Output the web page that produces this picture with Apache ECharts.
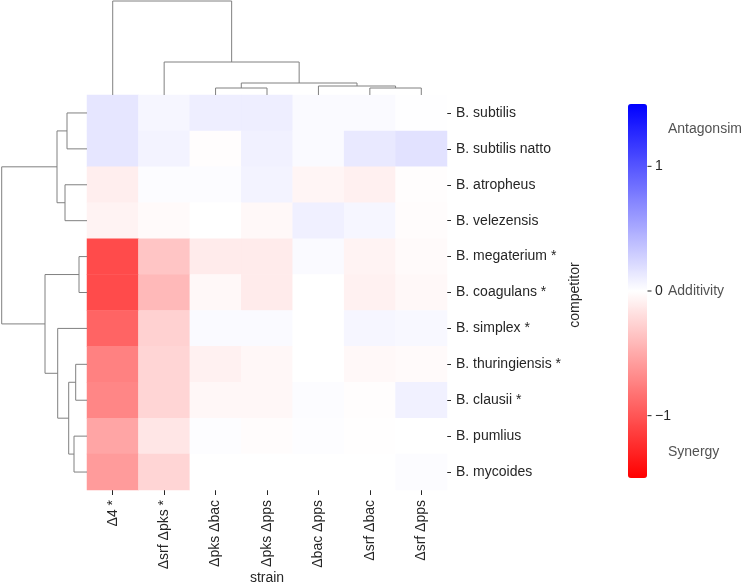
<!DOCTYPE html>
<html><head><meta charset="utf-8">
<script src="https://cdn.jsdelivr.net/npm/echarts@6/dist/echarts.min.js"></script>
<style>html,body{margin:0;padding:0;background:#fff}#c{width:750px;height:584px}</style>
</head><body><div id="c"></div>
<script>
// ---- data ----
const strains = ['Δ4 *','Δsrf Δpks *','Δpks Δbac','Δpks Δpps','Δbac Δpps','Δsrf Δbac','Δsrf Δpps'];
const competitors = ['B. subtilis','B. subtilis natto','B. atropheus','B. velezensis','B. megaterium *','B. coagulans *','B. simplex *','B. thuringiensis *','B. clausii *','B. pumlius','B. mycoides'];
const vSubtilis      = [0.15, 0.05, 0.10, 0.10, 0.03, 0.03, 0.005];
const vSubtilisNatto = [0.15, 0.07, -0.01, 0.08, 0.03, 0.13, 0.17];
const vAtropheus     = [-0.10, 0.02, 0.02, 0.07, -0.06, -0.09, -0.01];
const vVelezensis    = [-0.07, -0.03, 0.0, -0.04, 0.09, 0.05, -0.02];
const vMegaterium    = [-1.06, -0.34, -0.12, -0.12, 0.03, -0.07, -0.03];
const vCoagulans     = [-1.06, -0.41, -0.04, -0.12, 0.0, -0.08, -0.04];
const vSimplex       = [-0.91, -0.27, 0.03, 0.03, 0.0, 0.05, 0.04];
const vThuringiensis = [-0.74, -0.25, -0.08, -0.05, 0.0, -0.04, -0.03];
const vClausii       = [-0.71, -0.25, -0.05, -0.05, 0.02, -0.01, 0.08];
const vPumlius       = [-0.53, -0.15, 0.01, -0.02, 0.01, -0.005, 0.0];
const vMycoides      = [-0.59, -0.25, 0.0, 0.0, 0.0, 0.0, 0.02];
// linkage: [clusterA, clusterB, height]; new cluster ids continue after leaves
const colMerges = [[5,6,7],[2,3,7],[4,7,9],[8,9,12],[1,10,33],[0,11,94]];
const rowMerges = [[4,5,8],[7,8,11.3],[9,10,13],[12,13,18.3],[0,1,20],[2,3,22],[6,14,29.3],[15,16,30],[11,17,42],[18,19,85.3]];
const cbarMin = -1.5, cbarMax = 1.5;
const cbarTicks = [-1, 0, 1];
const cbarNotes = [['Antagonsim', 1.30], ['Additivity', 0], ['Synergy', -1.29]];

// ---- build ----
const rows = [vSubtilis, vSubtilisNatto, vAtropheus, vVelezensis, vMegaterium, vCoagulans, vSimplex, vThuringiensis, vClausii, vPumlius, vMycoides];
const heat = [];
rows.forEach((r, yi) => r.forEach((v, xi) => heat.push([xi, yi, v])));

function dendro(merges, n) {
  const pos = [], hgt = [], segs = [];
  for (let i = 0; i < n; i++) { pos.push(i + 0.5); hgt.push(0); }
  merges.forEach(([a, b, h]) => {
    segs.push([[pos[a], hgt[a]], [pos[a], h], [pos[b], h], [pos[b], hgt[b]]]);
    pos.push((pos[a] + pos[b]) / 2); hgt.push(h);
  });
  return segs;
}
const topSegs = dendro(colMerges, strains.length).map(s => ({coords: s}));
const leftSegs = dendro(rowMerges, competitors.length).map(s => ({coords: s.map(([p, h]) => [h, p])}));

const FONT = 'Liberation Sans';
const TXT = '#262626';
const hidden = {show: false};
const chart = echarts.init(document.getElementById('c'), null, {renderer: 'canvas'});
chart.setOption({
  animation: false,
  textStyle: {fontFamily: FONT},
  grid: [
    {left: 87, top: 95, width: 360, height: 395},
    {left: 87, top: 0, width: 360, height: 95},
    {left: 0, top: 95, width: 87, height: 395},
    {left: 628, top: 104, width: 19, height: 374}
  ],
  xAxis: [
    {gridIndex: 0, type: 'category', data: strains, axisLine: {show: true, lineStyle: {opacity: 0}}, splitLine: hidden,
     axisTick: {show: true, alignWithLabel: true, length: 5, lineStyle: {color: TXT, width: 1}},
     axisLabel: {rotate: 90, margin: 10, fontSize: 14, color: TXT, fontFamily: FONT}},
    {gridIndex: 1, type: 'value', min: 0, max: strains.length, show: false},
    {gridIndex: 2, type: 'value', min: 0, max: 87, inverse: true, show: false},
    {gridIndex: 3, type: 'value', min: 0, max: 1, show: false}
  ],
  yAxis: [
    {gridIndex: 0, type: 'category', data: competitors, inverse: true, position: 'right',
     axisLine: {show: true, lineStyle: {opacity: 0}}, splitLine: hidden,
     axisTick: {show: true, alignWithLabel: true, length: 4, lineStyle: {color: TXT, width: 1}},
     axisLabel: {margin: 9, fontSize: 14, color: TXT, fontFamily: FONT}},
    {gridIndex: 1, type: 'value', min: 0, max: 95, show: false},
    {gridIndex: 2, type: 'value', min: 0, max: competitors.length, inverse: true, show: false},
    {gridIndex: 3, type: 'value', min: cbarMin, max: cbarMax, position: 'right',
     axisLine: {show: true, lineStyle: {opacity: 0}}, splitLine: hidden,
     axisTick: {show: false},
     axisLabel: {show: true, customValues: cbarTicks, margin: 8, fontSize: 14, color: TXT, fontFamily: FONT,
                 formatter: v => String(v).replace('-', '\u2212')}}
  ],
  visualMap: {
    type: 'continuous', min: cbarMin, max: cbarMax, seriesIndex: 0,
    inRange: {color: ['#ff0000', '#ffffff', '#0000ff']},
    orient: 'vertical', left: 628, top: 104, itemWidth: 19, itemHeight: 374,
    calculable: false, padding: 0, text: null, showLabel: false, hoverLink: false
  },
  series: [
    {type: 'heatmap', xAxisIndex: 0, yAxisIndex: 0, data: heat, itemStyle: {borderWidth: 0}, silent: true},
    {type: 'lines', coordinateSystem: 'cartesian2d', xAxisIndex: 1, yAxisIndex: 1, polyline: true,
     data: topSegs, lineStyle: {color: '#808080', width: 1, opacity: 1}, silent: true},
    {type: 'lines', coordinateSystem: 'cartesian2d', xAxisIndex: 2, yAxisIndex: 2, polyline: true,
     data: leftSegs, lineStyle: {color: '#808080', width: 1, opacity: 1}, silent: true},
    {type: 'scatter', xAxisIndex: 3, yAxisIndex: 3, symbolSize: 0, silent: true,
     data: cbarNotes.map(([t, v]) => ({value: [1, v], name: t})),
     label: {show: true, position: 'right', distance: 21, formatter: p => p.name,
             fontSize: 14, color: TXT, fontFamily: FONT}},
    {type: 'scatter', xAxisIndex: 3, yAxisIndex: 3, silent: true, z: 10,
     symbol: 'rect', symbolSize: [4, 1], symbolOffset: [2.5, 0],
     data: cbarTicks.map(v => [1, v]), itemStyle: {color: TXT, opacity: 1}}
  ],
  graphic: [
    {type: 'text', x: 267, y: 578, style: {text: 'strain', fontSize: 14, fill: TXT, fontFamily: FONT,
      align: 'center', verticalAlign: 'middle'}},
    {type: 'text', x: 575, y: 295, rotation: Math.PI / 2, style: {text: 'competitor', fontSize: 14, fill: TXT,
      fontFamily: FONT, align: 'center', verticalAlign: 'middle'}}
  ]
});
</script></body></html>
